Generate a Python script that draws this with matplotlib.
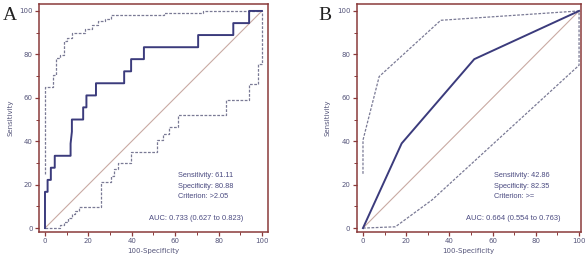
import matplotlib
matplotlib.use('Agg')
import matplotlib.pyplot as plt

# panel A: ROC step curve and confidence bounds (100-Specificity, Sensitivity)
a_roc_x = [0, 0, 1.2, 1.2, 2.7, 2.7, 4.5, 4.5, 11.8, 11.8, 12.4, 12.4, 17.6, 17.6, 19.1, 19.1,
           23.5, 23.5, 36.5, 36.5, 39.7, 39.7, 45.6, 45.6, 70.6, 70.6, 86.8, 86.8, 94.1, 94.1, 100]
a_roc_y = [0, 16.7, 16.7, 22.2, 22.2, 27.8, 27.8, 33.3, 33.3, 38.9, 44.4, 50.0, 50.0, 55.6, 55.6, 61.1,
           61.1, 66.7, 66.7, 72.2, 72.2, 77.8, 77.8, 83.3, 83.3, 88.9, 88.9, 94.4, 94.4, 100, 100]
a_up_x = [0, 0, 3.8, 3.8, 5.0, 5.0, 7.0, 7.0, 8.8, 8.8, 10.3, 10.3, 12.5, 12.5, 18.5, 18.5,
          21.5, 21.5, 24.5, 24.5, 27.5, 27.5, 30.5, 30.5, 55.0, 55.0, 73.0, 73.0, 100]
a_up_y = [25, 64.8, 64.8, 70.5, 70.5, 78.2, 78.2, 79.5, 79.5, 86.2, 86.2, 87.5, 87.5, 90.0, 90.0, 91.5,
          91.5, 93.5, 93.5, 95.5, 95.5, 96.5, 96.5, 98.0, 98.0, 99.0, 99.0, 100, 100]
a_lo_x = [0, 6.8, 6.8, 8.8, 8.8, 10.8, 10.8, 12.5, 12.5, 14.0, 14.0, 15.5, 15.5, 25.8, 25.8, 30.5,
          30.5, 32.0, 32.0, 33.5, 33.5, 39.5, 39.5, 51.5, 51.5, 54.5, 54.5, 57.0, 57.0, 61.5, 61.5,
          83.5, 83.5, 94.0, 94.0, 98.3, 98.3, 100, 100]
a_lo_y = [0, 0, 1.5, 1.5, 3.0, 3.0, 4.5, 4.5, 6.5, 6.5, 8.0, 8.0, 9.7, 9.7, 21.0, 21.0,
          24.0, 24.0, 27.0, 27.0, 30.0, 30.0, 35.0, 35.0, 40.5, 40.5, 43.5, 43.5, 46.5, 46.5, 52.0,
          52.0, 58.8, 58.8, 66.5, 66.5, 75.5, 75.5, 100]

# panel B
b_roc_x = [0, 17.9, 51.5, 100]
b_roc_y = [0, 39.0, 77.8, 100]
b_up_x = [0, 0, 7.5, 36.0, 100]
b_up_y = [25, 40.5, 69.8, 95.7, 100]
b_lo_x = [0, 15.0, 32.0, 100, 100]
b_lo_y = [0, 0.6, 13.0, 75.0, 100]

a_stats = ['Sensitivity: 61.11', 'Specificity: 80.88', 'Criterion: >2.05']
a_auc = 'AUC: 0.733 (0.627 to 0.823)'
b_stats = ['Sensitivity: 42.86', 'Specificity: 82.35', 'Criterion: >=']
b_auc = 'AUC: 0.664 (0.554 to 0.763)'

frame_c = '#8a3a3a'
txt_c = '#4a4a80'
roc_c = '#3b3b7c'
ci_c = '#7a7a95'
diag_c = '#c9aaa3'

fig = plt.figure(figsize=(5.88, 2.59), dpi=100)
axA = fig.add_axes([39 / 588, 27 / 259, 229 / 588, 228 / 259])
axB = fig.add_axes([356.5 / 588, 27 / 259, 224.5 / 588, 228 / 259])


def draw(ax, rx, ry, ux, uy, lx, ly, stats, auc, sx, ax_auc, xlim, letter, lx_pos, ylab_x):
    ax.plot([0, 100], [0, 100], color=diag_c, lw=0.8)
    ax.plot(ux, uy, color=ci_c, lw=0.9, ls=(0, (2.2, 1.2)))
    ax.plot(lx, ly, color=ci_c, lw=0.9, ls=(0, (2.2, 1.2)))
    ax.plot(rx, ry, color=roc_c, lw=1.4)
    ax.set_xlim(xlim)
    ax.set_ylim(-1.8, 103.2)
    ax.set_xticks(range(0, 101, 20))
    ax.set_yticks(range(0, 101, 20))
    ax.set_xticks(range(10, 100, 20), minor=True)
    ax.set_yticks(range(10, 100, 20), minor=True)
    for s in ax.spines.values():
        s.set_color(frame_c)
        s.set_linewidth(1.1)
    ax.tick_params(which='major', length=3, width=0.9, color=frame_c,
                   labelsize=5.0, labelcolor='#55557a', pad=1.5)
    ax.tick_params(which='minor', length=2, width=0.7, color=frame_c)
    ax.set_xlabel('100-Specificity', fontsize=5.0, color='#55557a', labelpad=3)
    ax.set_ylabel('Sensitivity', fontsize=5.0, color='#55557a')
    ax.yaxis.set_label_coords(ylab_x, 0.5)
    for i, s in enumerate(stats):
        ax.text(sx, 24 - i * 4.7, s, fontsize=5.3, color=txt_c, va='center', ha='left')
    ax.text(ax_auc, 4.3, auc, fontsize=5.4, color=txt_c, va='center', ha='left')
    fig.text(lx_pos, 0.94, letter, fontsize=14, family='Liberation Serif',
             va='center', ha='left', color='#222222')


plt.rcParams['font.family'] = ['Liberation Sans', 'DejaVu Sans']
draw(axA, a_roc_x, a_roc_y, a_up_x, a_up_y, a_lo_x, a_lo_y, a_stats, a_auc,
     61.3, 48.0, (-2.76, 102.8), 'A', 3 / 588, -25 / 229)
draw(axB, b_roc_x, b_roc_y, b_up_x, b_up_y, b_lo_x, b_lo_y, b_stats, b_auc,
     60.6, 47.5, (-3.0, 100.9), 'B', 318 / 588, -26 / 224.5)

fig.savefig('out.png', dpi=100)
